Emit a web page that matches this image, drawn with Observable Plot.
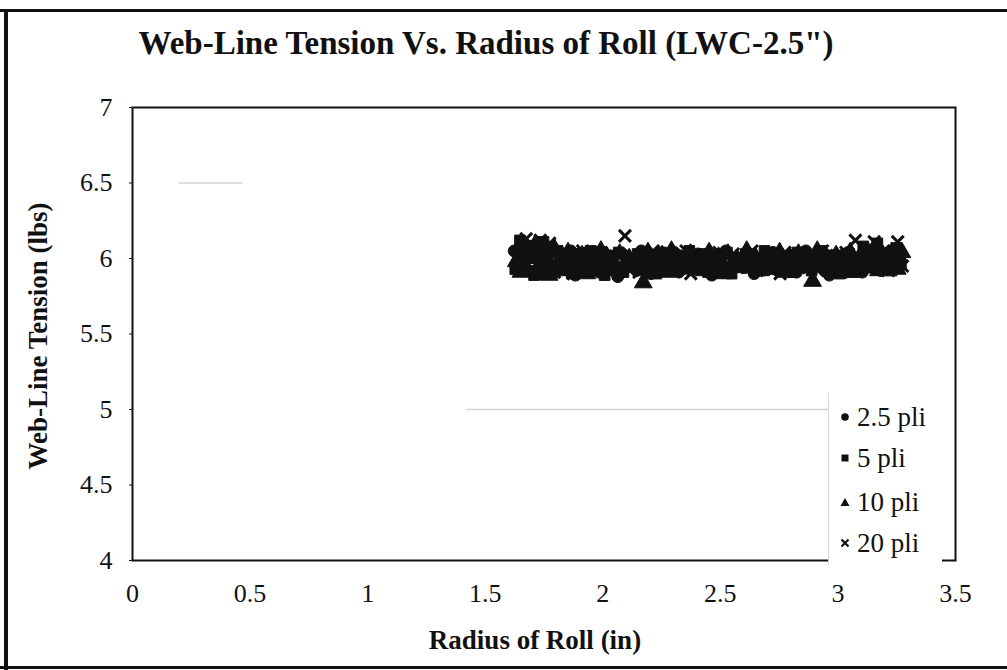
<!DOCTYPE html>
<html>
<head>
<meta charset="utf-8">
<script src="https://cdn.jsdelivr.net/npm/d3@7"></script>
<script src="https://cdn.jsdelivr.net/npm/@observablehq/plot@0.6"></script>
<style>
  html, body { margin: 0; padding: 0; background: #fff; }
  #wrap { position: relative; width: 1007px; height: 670px; overflow: hidden; background: #fff; font-family: "Liberation Serif", "DejaVu Serif", serif; color: #111; }
  #chart { position: absolute; left: 0; top: 0; }
  #chart svg, #chart svg text, #chart svg g { font-family: "Liberation Serif", "DejaVu Serif", serif !important; }
  .border { position: absolute; background: #111; }
  #title { position: absolute; left: 0; width: 972px; top: 24px; text-align: center; font-weight: bold; font-size: 33px; line-height: 38px; white-space: nowrap; }
  #xlabel { position: absolute; left: 335px; width: 400px; top: 624px; text-align: center; font-weight: bold; font-size: 27px; line-height: 32px; }
  #ylabel { position: absolute; left: 38px; top: 336px; width: 360px; margin-left: -180px; text-align: center; font-weight: bold; font-size: 27px; line-height: 32px; transform: translateY(-50%) rotate(-90deg); white-space: nowrap; }
  #legend { position: absolute; left: 828px; top: 393px; width: 114px; height: 172px; background: #fff; border-left: 1px solid #d8d8d8; box-sizing: border-box; }
  .item { position: absolute; left: 11px; font-size: 27px; line-height: 30px; display: flex; align-items: center; white-space: nowrap; }
  .item svg { margin-right: 7px; }
</style>
</head>
<body>
<div id="wrap">
  <div id="chart"></div>
  <div class="border" style="left:4px; top:9px; width:4px; height:661px;"></div>
  <div class="border" style="left:0; top:9px; width:1007px; height:3px;"></div>
  <div class="border" style="left:0; top:666px; width:1007px; height:3px;"></div>
  <div id="title">Web-Line Tension Vs. Radius of Roll (LWC-2.5")</div>
  <div id="xlabel">Radius of Roll (in)</div>
  <div id="ylabel">Web-Line Tension (lbs)</div>
  <div id="legend"></div>
</div>
<script>
// ---- data ----
const seriesNames = ["2.5 pli", "5 pli", "10 pli", "20 pli"];
const seriesSymbols = ["circle", "square", "triangle", "times"];

const radius = [
  1.63,1.65,1.67,1.69,1.71,1.73,1.75,1.77,1.79,1.81,
  1.83,1.85,1.87,1.89,1.91,1.93,1.95,1.97,1.99,2.01,
  2.03,2.05,2.07,2.09,2.11,2.13,2.15,2.17,2.19,2.21,
  2.23,2.25,2.27,2.29,2.31,2.33,2.35,2.37,2.39,2.41,
  2.43,2.45,2.47,2.49,2.51,2.53,2.55,2.57,2.59,2.61,
  2.63,2.65,2.67,2.69,2.71,2.73,2.75,2.77,2.79,2.81,
  2.83,2.85,2.87,2.89,2.91,2.93,2.95,2.97,2.99,3.01,
  3.03,3.05,3.07,3.09,3.11,3.13,3.15,3.17,3.19,3.21,
  3.23,3.25,3.27
];

const tension2_5 = [
  6.05,5.95,6.10,5.92,6.02,6.08,5.90,5.98,6.04,5.93,
  6.00,5.96,6.05,5.89,5.97,6.03,5.94,5.99,5.91,6.04,
  5.96,6.01,5.88,6.03,5.95,5.99,5.92,6.05,5.97,5.90,
  6.02,5.94,6.00,5.96,6.04,5.91,5.98,6.01,5.93,6.03,
  5.95,5.99,5.89,6.02,5.96,6.05,5.92,5.98,6.00,5.94,
  6.03,5.90,5.97,6.01,5.95,6.04,5.92,5.99,5.96,6.02,
  5.91,5.98,6.05,5.94,6.00,5.96,6.03,5.89,5.97,6.01,
  5.93,6.04,5.95,5.99,5.91,6.06,5.96,6.02,5.92,6.00,
  6.05,5.94,6.01
];
const tension5 = [
  5.93,6.12,5.99,6.07,5.89,6.03,6.11,5.95,5.91,6.05,
  5.94,6.01,5.90,6.03,5.98,5.92,6.05,5.96,6.00,5.89,
  6.02,5.95,6.04,5.91,5.99,5.96,6.03,5.93,6.01,5.98,
  5.90,6.04,5.95,6.00,5.92,6.02,5.96,6.05,5.94,5.99,
  6.03,5.91,5.97,6.01,5.94,6.04,5.90,6.00,5.96,6.03,
  5.95,5.99,5.92,6.05,5.97,5.93,6.02,5.95,6.00,5.91,
  6.04,5.96,6.01,5.92,5.99,6.05,5.94,5.98,6.02,5.90,
  5.97,6.03,5.91,6.00,6.08,5.94,5.99,6.10,5.95,6.03,
  5.92,6.07,5.96
];
const tension10 = [
  5.98,5.91,6.06,6.00,6.09,5.94,6.02,5.89,6.07,5.97,
  5.92,6.04,5.99,5.95,6.02,5.90,6.01,5.93,6.05,5.96,
  5.99,5.92,6.03,5.96,6.00,5.94,6.01,5.84,6.04,5.95,
  5.98,6.02,5.91,6.05,5.97,5.99,5.93,6.03,5.96,6.00,
  5.92,6.04,5.95,6.01,5.90,6.03,5.97,5.99,5.94,6.05,
  5.96,6.00,5.92,6.02,5.98,5.95,6.04,5.91,6.01,5.97,
  6.03,5.94,5.99,5.85,6.05,5.96,6.00,5.93,6.02,5.98,
  5.91,6.04,5.97,6.01,5.94,5.99,6.06,5.92,6.02,5.96,
  6.00,5.93,6.04
];
const tension20 = [
  6.01,5.96,6.13,5.93,6.08,6.12,5.98,6.10,5.91,6.02,
  5.95,6.03,5.90,5.99,6.05,5.94,6.00,5.92,6.04,5.97,
  6.01,5.93,6.02,6.15,5.96,6.00,5.91,6.03,5.98,6.05,
  5.94,5.99,6.04,5.92,6.01,5.96,6.05,5.90,6.00,5.95,
  6.02,5.97,5.93,6.04,5.99,5.91,6.03,5.96,6.01,5.94,
  6.05,5.92,6.00,5.95,6.02,5.98,5.90,6.04,5.96,6.01,
  5.94,6.03,5.97,6.00,5.92,6.05,5.99,5.95,6.02,5.91,
  6.04,5.97,6.12,5.93,6.02,5.98,6.11,5.96,6.05,5.92,
  6.00,6.11,5.95
];
const tensions = [tension2_5, tension5, tension10, tension20];

const xTicks = [0, 0.5, 1, 1.5, 2, 2.5, 3, 3.5];
const yTicks = [4, 4.5, 5, 5.5, 6, 6.5, 7];

// faint scanned gridline remnants
const faintLines = [
  {y: 6.5, x1: 0.2, x2: 0.47},
  {y: 5.0, x1: 1.42, x2: 3.0}
];

// ---- build table ----
const points = [];
tensions.forEach((ys, s) => {
  ys.forEach((y, i) => points.push({radius: radius[i], tension: y, series: seriesNames[s], sym: seriesSymbols[s]}));
});

const font = '"Liberation Serif", "DejaVu Serif", serif';

const marks = [
  Plot.ruleY(faintLines, {y: "y", x1: "x1", x2: "x2", stroke: "#d4d4d4", strokeWidth: 1.5})
];
seriesSymbols.forEach((sym, s) => {
  const data = points.filter(d => d.sym === sym);
  if (sym === "times") {
    marks.push(Plot.dot(data, {x: "radius", y: "tension", symbol: "times", r: 5.5, stroke: "#111", strokeWidth: 3, dx: 1}));
  } else {
    const r = sym === "triangle" ? 6.6 : 6;
    marks.push(Plot.dot(data, {x: "radius", y: "tension", symbol: sym, r, fill: "#111", stroke: "#111", strokeWidth: 1, dx: s - 1.5}));
  }
});
marks.push(Plot.frame({stroke: "#111", strokeWidth: 2}));
marks.push(Plot.axisX({ticks: xTicks, tickSize: 0, tickPadding: 23, tickFormat: d => String(d), label: null, fontSize: 26, fontFamily: font}));
marks.push(Plot.axisY({ticks: yTicks, tickSize: 3, tickPadding: 17, tickFormat: d => String(d), label: null, fontSize: 26, fontFamily: font}));

const chart = Plot.plot({
  width: 1007,
  height: 670,
  marginLeft: 132,
  marginRight: 52,
  marginTop: 107,
  marginBottom: 110,
  x: {domain: [0, 3.5]},
  y: {domain: [4, 7]},
  style: {fontFamily: font, fontSize: "26px", color: "#111", background: "transparent"},
  marks
});
document.getElementById("chart").appendChild(chart);

// ---- legend ----
const legend = document.getElementById("legend");
const legendTops = [9, 50, 94, 135];
const symSvg = {
  circle: '<svg width="10" height="10"><circle cx="5" cy="5" r="3.8" fill="#111"/></svg>',
  square: '<svg width="10" height="10"><rect x="1.5" y="1.5" width="7" height="7" fill="#111"/></svg>',
  triangle: '<svg width="10" height="10"><polygon points="5,1 9.5,9 0.5,9" fill="#111"/></svg>',
  times: '<svg width="10" height="10"><path d="M1.5,1.5L8.5,8.5M8.5,1.5L1.5,8.5" stroke="#111" stroke-width="2.2"/></svg>'
};
seriesNames.forEach((name, i) => {
  const div = document.createElement("div");
  div.className = "item";
  div.style.top = legendTops[i] + "px";
  div.innerHTML = symSvg[seriesSymbols[i]] + "<span>" + name + "</span>";
  legend.appendChild(div);
});
</script>
</body>
</html>
